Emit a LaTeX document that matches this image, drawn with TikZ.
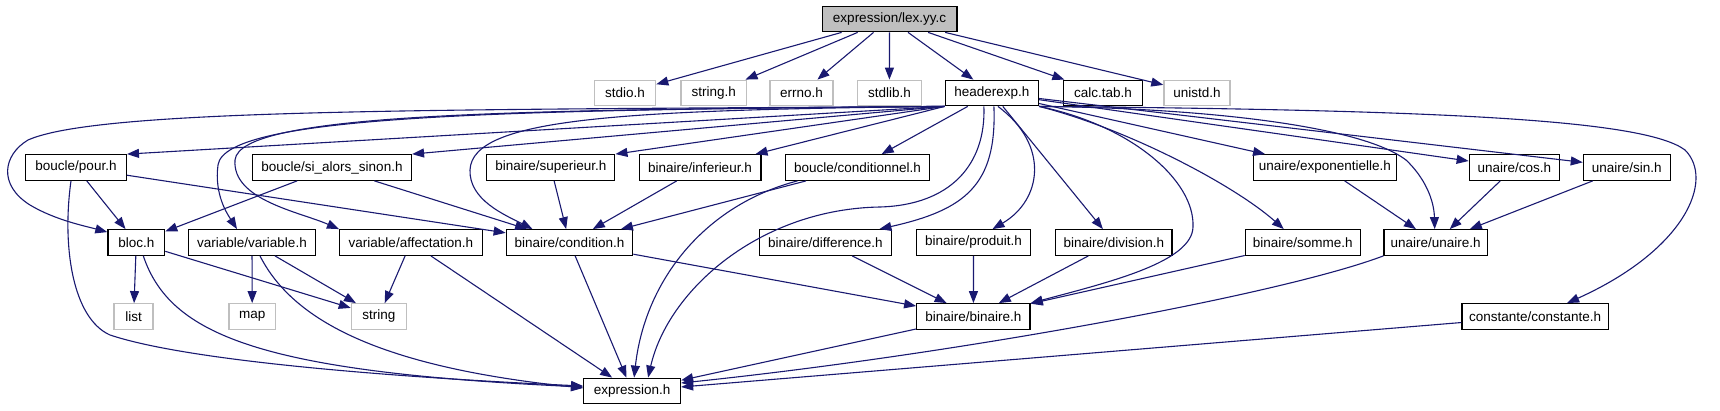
\documentclass[tikz,border=0pt]{standalone}
\usepackage{fontspec}
\setmainfont{Liberation Sans}
\usepackage{xcolor}
\usetikzlibrary{arrows.meta}

\definecolor{edgeblue}{HTML}{191970}
\definecolor{sysgrey}{HTML}{BFBFBF}

\begin{document}
\begin{tikzpicture}[
    x=1pt, y=-1pt,
    hfile/.style={
      rectangle,
      draw=black,
      fill=white,
      line width=1.3pt,
      minimum height=25.5pt,
      inner sep=0pt,
      font=\fontsize{13.5}{15}\selectfont
    },
    sysfile/.style={hfile, draw=sysgrey},
    srcfile/.style={hfile, fill=sysgrey},
    dep/.style={-{Triangle[length=12pt, width=9pt]}, draw=edgeblue, line width=1.1pt}
  ]
    \useasboundingbox (0,0) rectangle (1720,411);

    % row 0
    \node[srcfile, minimum width=134.7pt] (lex) at (889.5,19) {expression/lex.yy.c};

    % row 1
    \node[sysfile, minimum width=61.3pt] (stdio) at (625,93) {stdio.h};
    \node[sysfile, minimum width=65.4pt] (stringh) at (713.7,93) {string.h};
    \node[sysfile, minimum width=62.8pt] (errno) at (801.5,93) {errno.h};
    \node[sysfile, minimum width=64pt] (stdlib) at (889.4,93) {stdlib.h};
    \node[hfile, minimum width=93pt] (hdr) at (991.9,93) {headerexp.h};
    \node[hfile, minimum width=79pt] (calc) at (1103,93) {calc.tab.h};
    \node[sysfile, minimum width=66.2pt] (unistd) at (1197,93) {unistd.h};

    % row 2
    \node[hfile, minimum width=100.7pt] (pour) at (76,167.5) {boucle/pour.h};
    \node[hfile, minimum width=158.8pt] (si) at (332,167.5) {boucle/si\_alors\_sinon.h};
    \node[hfile, minimum width=128pt] (sup) at (550.8,167.5) {binaire/superieur.h};
    \node[hfile, minimum width=121.7pt] (inf) at (700,167.5) {binaire/inferieur.h};
    \node[hfile, minimum width=143.5pt] (condl) at (857.5,167.5) {boucle/conditionnel.h};
    \node[hfile, minimum width=143.5pt] (expo) at (1324.9,167.5) {unaire/exponentielle.h};
    \node[hfile, minimum width=90pt] (cos) at (1514.3,167.5) {unaire/cos.h};
    \node[hfile, minimum width=86.8pt] (sin) at (1626.8,167.5) {unaire/sin.h};

    % row 3
    \node[hfile, minimum width=56.7pt] (bloc) at (136.3,242.5) {bloc.h};
    \node[hfile, minimum width=126.6pt] (var) at (252,242.5) {variable/variable.h};
    \node[hfile, minimum width=142.7pt] (aff) at (410.9,242.5) {variable/affectation.h};
    \node[hfile, minimum width=126.4pt] (cond) at (569.5,242.5) {binaire/condition.h};
    \node[hfile, minimum width=132pt] (diff) at (825.4,242.5) {binaire/difference.h};
    \node[hfile, minimum width=114.4pt] (prod) at (973.5,242.5) {binaire/produit.h};
    \node[hfile, minimum width=116.4pt] (div) at (1113.8,242.5) {binaire/division.h};
    \node[hfile, minimum width=114.8pt] (somme) at (1302.8,242.5) {binaire/somme.h};
    \node[hfile, minimum width=103.3pt] (unaire) at (1435.7,242.5) {unaire/unaire.h};

    % row 4
    \node[sysfile, minimum width=39pt] (list) at (133.6,316.5) {list};
    \node[sysfile, minimum width=46.6pt] (map) at (252.2,316.5) {map};
    \node[sysfile, minimum width=55pt] (str) at (378.9,316.5) {string};
    \node[hfile, minimum width=113.3pt] (bin) at (973.4,316.5) {binaire/binaire.h};
    \node[hfile, minimum width=146.2pt] (const) at (1535.1,316.5) {constante/constante.h};

    % row 5
    \node[hfile, minimum width=96.8pt] (expr) at (632.1,391) {expression.h};

    % lex.yy.c
    \draw[dep] (lex) -- (stdio);
    \draw[dep] (lex) -- (stringh);
    \draw[dep] (lex) -- (errno);
    \draw[dep] (lex) -- (stdlib);
    \draw[dep] (lex) -- (hdr);
    \draw[dep] (lex) -- (calc);
    \draw[dep] (lex) -- (unistd);

    % headerexp.h, left side
    \draw[dep] (hdr.south west) -- (pour.north east);
    \draw[dep] (hdr.south west) -- (si.north east);
    \draw[dep] (hdr.south west) -- (sup.north east);
    \draw[dep] (hdr.south west) -- ([xshift=-6pt]inf.north east);
    \draw[dep] (hdr) -- (condl);
    \draw[dep] (hdr.south west) .. controls (450,110) and (100,108) .. (28,140)
      .. controls (3,155) and (-2,185) .. (30,205)
      .. controls (55,220) and (85,226) .. ([yshift=-3pt]bloc.north west);
    \draw[dep] (hdr.south west) .. controls (500,110) and (225,115) .. (218,165)
      .. controls (214,195) and (228,215) .. ([xshift=-15pt]var.north);
    \draw[dep] (hdr.south west) .. controls (520,110) and (240,112) .. (235,160)
      .. controls (232,200) and (300,212) .. (aff.north west);
    \draw[dep] (hdr.south west) .. controls (620,110) and (472,118) .. (470,170)
      .. controls (469,200) and (505,215) .. ([xshift=-37pt]cond.north);
    \draw[dep] ([xshift=-8pt]hdr.south) .. controls (986,165) and (950,205) .. (880,207)
      .. controls (760,209) and (668,290) .. ([xshift=16pt]expr.north);

    % headerexp.h, right side
    \draw[dep] ([xshift=2pt]hdr.south) .. controls (997,185) and (965,210) .. ([xshift=54pt]diff.north);
    \draw[dep] ([xshift=6pt]hdr.south) .. controls (1050,145) and (1042,200) .. ([xshift=19pt]prod.north);
    \draw[dep] (hdr) -- (div);
    \draw[dep] (hdr.south east) .. controls (1128,129) and (1234,185) .. ([xshift=-19pt]somme.north);
    \draw[dep] (hdr.south east) .. controls (1130,125) and (1195,180) .. (1193,227)
      .. controls (1192,262) and (1110,282) .. (bin.north east);
    \draw[dep] (hdr.south east) .. controls (1200,108) and (1360,125) .. (1406,160)
      .. controls (1425,178) and (1434,200) .. ([xshift=-1pt]unaire.north);
    \draw[dep] (hdr) -- (expo);
    \draw[dep] (hdr) -- (cos);
    \draw[dep] (hdr) -- (sin);
    \draw[dep] (hdr.south east) .. controls (1450,110) and (1645,120) .. (1685,150)
      .. controls (1715,180) and (1685,250) .. ([xshift=32pt]const.north);

    % row 2 to lower rows
    \draw[dep] (pour) -- (bloc);
    \draw[dep] (pour) -- (cond);
    \draw[dep] ([xshift=-5pt]pour.south) .. controls (62,245) and (72,318) .. (110,335)
      .. controls (200,365) and (450,380) .. ([yshift=5pt]expr.west);
    \draw[dep] (si) -- (bloc);
    \draw[dep] (si) -- (cond);
    \draw[dep] (sup) -- (cond);
    \draw[dep] (inf) -- (cond);
    \draw[dep] (condl) -- (cond);
    \draw[dep] ([xshift=-60pt]condl.south) .. controls (705,205) and (645,280) .. ([xshift=2pt]expr.north);
    \draw[dep] (expo) -- (unaire);
    \draw[dep] (cos) -- (unaire);
    \draw[dep] (sin) -- (unaire);

    % row 3 to lower rows
    \draw[dep] (bloc) -- (list);
    \draw[dep] (bloc) -- (str);
    \draw[dep] ([xshift=7pt]bloc.south) .. controls (170,335) and (260,372) .. ([yshift=4pt]expr.west);
    \draw[dep] (var) -- (map);
    \draw[dep] (var) -- (str);
    \draw[dep] ([xshift=8pt]var.south) .. controls (295,325) and (390,368) .. ([yshift=3pt]expr.west);
    \draw[dep] (aff) -- (str);
    \draw[dep] (aff) -- (expr);
    \draw[dep] (cond) -- (expr);
    \draw[dep] (cond) -- (bin);
    \draw[dep] (diff) -- (bin);
    \draw[dep] (prod) -- (bin);
    \draw[dep] (div) -- (bin);
    \draw[dep] (somme) -- (bin);
    \draw[dep] (unaire.south west) .. controls (1280,295) and (950,355) .. ([yshift=8pt]expr.east);
    \draw[dep] (bin) -- (expr);
    \draw[dep] (const) -- (expr);
\end{tikzpicture}
\end{document}
